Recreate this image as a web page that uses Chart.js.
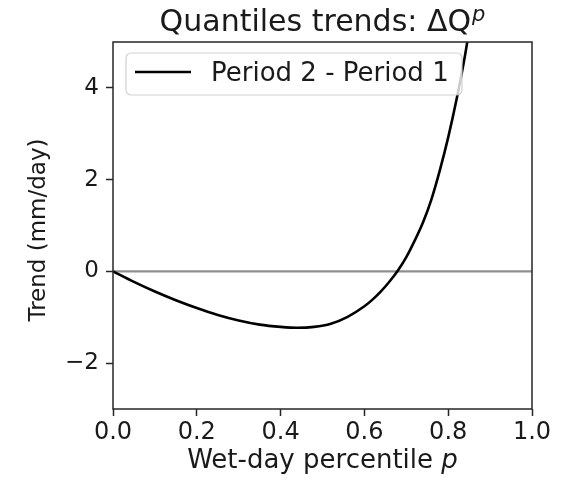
<!DOCTYPE html>
<html>
<head>
<meta charset="utf-8">
<script src="https://cdn.jsdelivr.net/npm/chart.js@4/dist/chart.umd.min.js"></script>
<style>
  html, body { margin: 0; padding: 0; background: #ffffff; }
  #wrap { width: 571px; height: 478px; position: relative; }
</style>
</head>
<body>
<div id="wrap"><canvas id="c"></canvas></div>
<script>
// Wet-day percentile p and the trend of each quantile (mm/day)
const percentile = [0.00, 0.05, 0.10, 0.15, 0.20, 0.25, 0.30, 0.35, 0.40, 0.44, 0.48, 0.52,
                    0.56, 0.60, 0.62, 0.64, 0.66, 0.68, 0.70, 0.72, 0.74, 0.76, 0.78, 0.80,
                    0.82, 0.84, 0.86];
const trend = [0.00, -0.23, -0.44, -0.63, -0.80, -0.95, -1.07, -1.16, -1.21, -1.23, -1.21, -1.14,
               -0.99, -0.76, -0.61, -0.43, -0.22, 0.02, 0.31, 0.67, 1.07, 1.57, 2.20, 2.92,
               3.75, 4.70, 5.85];

// Zero reference line
const zeroLineX = [0, 1];
const zeroLineY = [0, 0];

// Axis ticks
const xTicks = [0.0, 0.2, 0.4, 0.6, 0.8, 1.0];
const yTicks = [-2, 0, 2, 4];

const seriesLabel = 'Period 2 - Period 1';
const FONT = "'DejaVu Sans', 'Liberation Sans', sans-serif";

const frameAndText = {
  id: 'frameAndText',
  afterDraw(chart) {
    const ctx = chart.ctx;
    const a = chart.chartArea;
    ctx.save();

    // axes frame
    ctx.strokeStyle = '#262626';
    ctx.lineWidth = 1.5;
    ctx.strokeRect(a.left, a.top, a.right - a.left, a.bottom - a.top);

    // legend
    const lx = 126, ly = 53, lw = 336, lh = 42, r = 5;
    ctx.beginPath();
    ctx.moveTo(lx + r, ly);
    ctx.arcTo(lx + lw, ly, lx + lw, ly + lh, r);
    ctx.arcTo(lx + lw, ly + lh, lx, ly + lh, r);
    ctx.arcTo(lx, ly + lh, lx, ly, r);
    ctx.arcTo(lx, ly, lx + lw, ly, r);
    ctx.closePath();
    ctx.fillStyle = 'rgba(255,255,255,0.8)';
    ctx.fill();
    ctx.strokeStyle = 'rgba(204,204,204,0.9)';
    ctx.lineWidth = 1.2;
    ctx.stroke();

    ctx.beginPath();
    ctx.moveTo(135, 72);
    ctx.lineTo(191, 72);
    ctx.strokeStyle = '#000000';
    ctx.lineWidth = 2.6;
    ctx.stroke();

    ctx.fillStyle = '#1a1a1a';
    ctx.font = '26px ' + FONT;
    ctx.textAlign = 'left';
    ctx.textBaseline = 'middle';
    ctx.fillText(chart.data.datasets[0].label, 211, 74);

    // title with superscript p
    const cx = (a.left + a.right) / 2;
    ctx.textBaseline = 'alphabetic';
    const main = 'Quantiles trends: \u0394Q';
    ctx.font = '30px ' + FONT;
    const wMain = ctx.measureText(main).width;
    ctx.font = 'italic 21px ' + FONT;
    const wSup = ctx.measureText('p').width;
    const tx = cx - (wMain + wSup + 1) / 2;
    ctx.font = '30px ' + FONT;
    ctx.fillText(main, tx, 31);
    ctx.font = 'italic 21px ' + FONT;
    ctx.fillText('p', tx + wMain + 1, 21);

    // x axis label with italic p
    const xl = 'Wet-day percentile ';
    ctx.font = '26px ' + FONT;
    const wx = ctx.measureText(xl).width;
    ctx.font = 'italic 26px ' + FONT;
    const wp = ctx.measureText('p').width;
    const xs = cx - (wx + wp) / 2;
    ctx.font = '26px ' + FONT;
    ctx.fillText(xl, xs, 468);
    ctx.font = 'italic 26px ' + FONT;
    ctx.fillText('p', xs + wx, 468);

    // y axis label
    ctx.save();
    ctx.translate(39, 230);
    ctx.rotate(-Math.PI / 2);
    ctx.font = '23px ' + FONT;
    ctx.textAlign = 'center';
    ctx.textBaseline = 'middle';
    ctx.fillText('Trend (mm/day)', 0, 0);
    ctx.restore();

    ctx.restore();
  }
};

new Chart(document.getElementById('c'), {
  type: 'line',
  data: {
    datasets: [
      {
        label: seriesLabel,
        data: percentile.map((p, i) => ({ x: p, y: trend[i] })),
        borderColor: '#000000',
        borderWidth: 2.6,
        pointRadius: 0,
        cubicInterpolationMode: 'monotone',
        fill: false
      },
      {
        label: 'zero',
        data: zeroLineX.map((p, i) => ({ x: p, y: zeroLineY[i] })),
        borderColor: '#8f8f8f',
        borderWidth: 2.4,
        pointRadius: 0,
        fill: false
      }
    ]
  },
  plugins: [frameAndText],
  options: {
    responsive: true,
    maintainAspectRatio: false,
    animation: false,
    events: [],
    layout: { padding: { top: 42, right: 39, left: 0, bottom: 0 } },
    plugins: {
      legend: { display: false },
      title: { display: false },
      tooltip: { enabled: false }
    },
    scales: {
      x: {
        type: 'linear',
        min: 0,
        max: 1,
        afterFit(scale) { scale.height = 69; },
        afterBuildTicks(scale) { scale.ticks = xTicks.map(v => ({ value: v })); },
        border: { display: false },
        grid: { drawOnChartArea: false, drawTicks: true, tickLength: 7, tickColor: '#262626', tickWidth: 1.5 },
        ticks: {
          color: '#1a1a1a',
          padding: 2,
          maxRotation: 0,
          font: { family: FONT, size: 24 },
          callback: v => Number(v).toFixed(1)
        }
      },
      y: {
        type: 'linear',
        min: -3,
        max: 5,
        afterFit(scale) { scale.width = 113; },
        afterBuildTicks(scale) { scale.ticks = yTicks.map(v => ({ value: v })); },
        border: { display: false },
        grid: { drawOnChartArea: false, drawTicks: true, tickLength: 7, tickColor: '#262626', tickWidth: 1.5 },
        ticks: {
          color: '#1a1a1a',
          padding: 7,
          font: { family: FONT, size: 23 },
          callback: v => String(v).replace('-', '\u2212')
        }
      }
    }
  }
});
</script>
</body>
</html>
